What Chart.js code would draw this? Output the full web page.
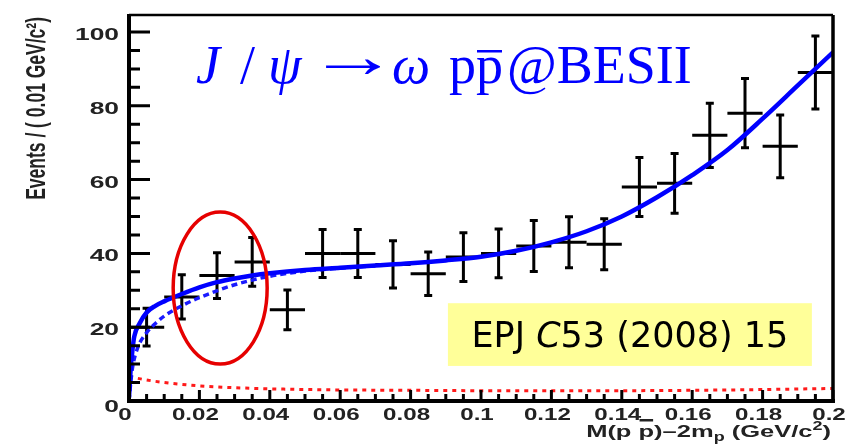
<!DOCTYPE html>
<html>
<head>
<meta charset="utf-8">
<script src="https://cdn.jsdelivr.net/npm/chart.js@4/dist/chart.umd.min.js"></script>
<style>
  html, body { margin: 0; padding: 0; background: #fff; }
  canvas { display: block; }
</style>
</head>
<body>
<canvas id="c" width="855" height="444"></canvas>
<script>
// M(p pbar) - 2m_p, bin centres in GeV/c^2 (0.01 GeV/c^2 bins)
const binCenters = [0.005, 0.015, 0.025, 0.035, 0.045, 0.055, 0.065, 0.075, 0.085, 0.095,
                    0.105, 0.115, 0.125, 0.135, 0.145, 0.155, 0.165, 0.175, 0.185, 0.195];
const binHalfWidth = 0.005;
// Events per bin and their errors
const events      = [20, 28.2, 34, 37.7, 24.7, 40, 40, 37, 34.5, 39,
                     40, 42, 43, 42.5, 58, 59, 72, 78, 69, 89];
const eventErrors = [5.1, 6.0, 6.2, 6.6, 5.4, 6.5, 6.5, 6.4, 5.9, 6.6,
                     6.6, 6.9, 6.9, 6.9, 8.0, 8.1, 8.7, 9.4, 8.5, 9.9];

// Total fit (solid blue)
const fitX = [0, 0.0005, 0.001, 0.0015, 0.003, 0.005, 0.0075, 0.01, 0.015, 0.02, 0.025, 0.03, 0.035, 0.04,
              0.05, 0.06, 0.07, 0.08, 0.09, 0.1, 0.11, 0.12, 0.13, 0.14, 0.15, 0.16, 0.17, 0.18, 0.19, 0.2];
const fitY = [1, 9, 14, 17.5, 21, 24, 25.8, 27, 29, 30.8, 32.2, 33.2, 34.0, 34.6,
              35.5, 36.1, 36.7, 37.3, 38.1, 39.1, 40.7, 43, 46, 50, 55.2, 61.2, 68, 76.5, 85.5, 94.5];

// Signal component (dashed blue)
const compX = [0, 0.0005, 0.001, 0.0025, 0.005, 0.0075, 0.01, 0.015, 0.02, 0.03, 0.04, 0.05, 0.06, 0.07];
const compY = [0, 5, 9, 14.5, 18.5, 21, 23, 25.8, 28, 31.5, 33.8, 35.2, 36.0, 36.6];

// Background (dotted red)
const bkgX = [0, 0.005, 0.01, 0.015, 0.02, 0.03, 0.04, 0.06, 0.08, 0.1, 0.12, 0.14, 0.16, 0.18, 0.2];
const bkgY = [6.6, 5.7, 5.0, 4.5, 4.1, 3.6, 3.3, 3.0, 2.9, 2.8, 2.8, 2.8, 2.9, 3.1, 3.4];

// Axis ticks and labels
const xTickValues = [0, 0.02, 0.04, 0.06, 0.08, 0.1, 0.12, 0.14, 0.16, 0.18, 0.2];
const xTickLabels = ['0', '0.02', '0.04', '0.06', '0.08', '0.1', '0.12', '0.14', '0.16', '0.18', '0.2'];
const yTickValues = [0, 20, 40, 60, 80, 100];
const yTickLabels = ['0', '20', '40', '60', '80', '100'];
const xMinorStep = 0.005;
const yMinorStep = 5;

// Highlighted region (ellipse, in data units) and reference note
const ellipseRegion = { cx: 0.0259, cy: 30.6, rx: 0.01335, ry: 20.6 };
const noteRegion = { x0: 0.0906, x1: 0.194, y0: 9.5, y1: 26.5 };
const noteText = ['EPJ ', 'C', '53 (2008) 15'];

const toPts = (xs, ys) => xs.map((x, i) => ({ x, y: ys[i] }));

// draw text pieces horizontally stretched by sx
function drawPieces(ctx, pieces, x, y, align, sx) {
  let total = 0;
  pieces.forEach(p => { ctx.font = p.font; p.w = ctx.measureText(p.t).width * sx; total += p.w; });
  let cur = align === 'right' ? x - total : (align === 'center' ? x - total / 2 : x);
  const spans = [];
  pieces.forEach(p => {
    ctx.save();
    ctx.font = p.font;
    ctx.translate(cur, y + (p.dy || 0));
    ctx.scale(sx, 1);
    ctx.textAlign = 'left';
    ctx.textBaseline = 'alphabetic';
    ctx.fillText(p.t, 0, 0);
    ctx.restore();
    spans.push([cur, cur + p.w]);
    cur += p.w;
  });
  return spans;
}

const rootFrame = {
  id: 'rootFrame',
  beforeDraw(chart) {
    const ctx = chart.ctx;
    ctx.save();
    ctx.fillStyle = '#fff';
    ctx.fillRect(0, 0, chart.width, chart.height);
    ctx.restore();
  },
  beforeDatasetsDraw(chart) {
    // error-bar crosses for the data points
    const ctx = chart.ctx, xs = chart.scales.x, ys = chart.scales.y;
    const pts = chart.data.datasets[3].data;
    ctx.save();
    ctx.strokeStyle = '#000';
    ctx.lineWidth = 3;
    ctx.lineCap = 'butt';
    pts.forEach(p => {
      const px = xs.getPixelForValue(p.x), py = ys.getPixelForValue(p.y);
      const x1 = xs.getPixelForValue(p.x - p.xErr), x2 = xs.getPixelForValue(p.x + p.xErr);
      const yt = ys.getPixelForValue(p.y + p.yErr), yb = ys.getPixelForValue(p.y - p.yErr);
      ctx.beginPath();
      ctx.moveTo(x1, py); ctx.lineTo(x2, py);
      ctx.moveTo(px, yt); ctx.lineTo(px, yb);
      ctx.moveTo(px - 4, yt); ctx.lineTo(px + 4, yt);
      ctx.moveTo(px - 4, yb); ctx.lineTo(px + 4, yb);
      ctx.stroke();
    });
    ctx.restore();
  },
  afterDatasetsDraw(chart) {
    const ctx = chart.ctx, xs = chart.scales.x, ys = chart.scales.y, a = chart.chartArea;
    ctx.save();
    // frame
    ctx.strokeStyle = '#000';
    ctx.lineWidth = 2.5;
    ctx.beginPath(); ctx.moveTo(a.left, a.top); ctx.lineTo(a.right, a.top); ctx.stroke();
    ctx.lineWidth = 3.5;
    ctx.beginPath(); ctx.moveTo(a.right, a.top); ctx.lineTo(a.right, a.bottom); ctx.stroke();
    ctx.lineWidth = 4;
    ctx.beginPath(); ctx.moveTo(a.left, a.top - 1); ctx.lineTo(a.left, a.bottom + 2); ctx.stroke();
    ctx.beginPath(); ctx.moveTo(a.left - 2, a.bottom); ctx.lineTo(a.right + 2, a.bottom); ctx.stroke();

    // ticks pointing inwards
    ctx.lineWidth = 3;
    ctx.beginPath();
    for (let v = 0; v <= 104; v += yMinorStep) {
      const py = ys.getPixelForValue(v);
      const len = yTickValues.includes(v) ? 21 : 11;
      ctx.moveTo(a.left, py); ctx.lineTo(a.left + len, py);
    }
    for (let k = 0; k <= 40; k++) {
      const v = k * xMinorStep;
      const px = xs.getPixelForValue(v);
      const len = (k % 4 === 0) ? 11 : 7;
      ctx.moveTo(px, a.bottom); ctx.lineTo(px, a.bottom - len);
    }
    ctx.stroke();

    // tick labels
    ctx.fillStyle = '#222';
    const tickFont = 'bold 17px "Liberation Sans", Arial, sans-serif';
    xTickValues.forEach((v, i) => {
      drawPieces(ctx, [{ t: xTickLabels[i], font: tickFont }], xs.getPixelForValue(v) - 4, 420, 'center', 1.42);
    });
    const yFont = 'bold 16px "Liberation Sans", Arial, sans-serif';
    yTickValues.forEach((v, i) => {
      const off = v === 0 ? 11 : 8;
      drawPieces(ctx, [{ t: yTickLabels[i], font: yFont }], 119, ys.getPixelForValue(v) + off, 'right', 1.65);
    });

    // x axis title
    const tf = 'bold 17px "Liberation Sans", Arial, sans-serif';
    const sf = 'bold 12px "Liberation Sans", Arial, sans-serif';
    const spans = drawPieces(ctx, [
      { t: 'M(p ', font: tf }, { t: 'p', font: tf }, { t: ')\u20132m', font: tf },
      { t: 'p', font: sf, dy: 4 }, { t: ' (GeV/c', font: tf }, { t: '2', font: sf, dy: -7 }, { t: ')', font: tf }
    ], 831, 437, 'right', 1.5);
    ctx.fillRect(spans[1][0] + 1, 419, spans[1][1] - spans[1][0] - 2, 2.5);

    // y axis title, reading upwards
    ctx.save();
    ctx.translate(45, 17);
    ctx.scale(1.6, 1);
    ctx.rotate(-Math.PI / 2);
    ctx.font = 'bold 17.5px "Liberation Sans", Arial, sans-serif';
    ctx.textAlign = 'right';
    ctx.textBaseline = 'alphabetic';
    ctx.fillText('Events / ( 0.01 GeV/c\u00b2)', 0, 0);
    ctx.restore();

    // highlighted region
    const ecx = xs.getPixelForValue(ellipseRegion.cx), ecy = ys.getPixelForValue(ellipseRegion.cy);
    const erx = xs.getPixelForValue(ellipseRegion.cx + ellipseRegion.rx) - ecx;
    const ery = ecy - ys.getPixelForValue(ellipseRegion.cy + ellipseRegion.ry);
    ctx.strokeStyle = '#e60000';
    ctx.lineWidth = 3.5;
    ctx.beginPath();
    ctx.ellipse(ecx, ecy, erx, ery, 0, 0, Math.PI * 2);
    ctx.stroke();

    // reference note box
    const bx0 = xs.getPixelForValue(noteRegion.x0), bx1 = xs.getPixelForValue(noteRegion.x1);
    const by0 = ys.getPixelForValue(noteRegion.y1), by1 = ys.getPixelForValue(noteRegion.y0);
    ctx.fillStyle = '#ffff99';
    ctx.fillRect(bx0, by0, bx1 - bx0, by1 - by0);
    ctx.fillStyle = '#000';
    const nf = '35px "DejaVu Sans", sans-serif';
    const nfi = 'oblique 35px "DejaVu Sans", sans-serif';
    drawPieces(ctx, [{ t: noteText[0], font: nf }, { t: noteText[1], font: nfi }, { t: noteText[2], font: nf }],
      (bx0 + bx1) / 2, (by0 + by1) / 2 + 12.5, 'center', 1);

    // process label
    ctx.fillStyle = '#0000ff';
    const serif = '"Liberation Serif", "Times New Roman", serif';
    const base = 83;
    const seg = (t, x, it) => { ctx.font = (it ? 'italic ' : '') + '54px ' + serif; ctx.fillText(t, x, base); return ctx.measureText(t).width; };
    ctx.textAlign = 'left';
    ctx.textBaseline = 'alphabetic';
    seg('J', 196, true);
    seg('/', 240, false);
    seg('\u03c8', 268, true);
    // arrow glyph, fitted to its ink box so it spans the gap between psi and omega
    ctx.save();
    ctx.font = '54px ' + serif;
    const am = ctx.measureText('\u2192');
    const inkW = am.actualBoundingBoxRight + am.actualBoundingBoxLeft;
    const inkH = am.actualBoundingBoxAscent + am.actualBoundingBoxDescent;
    const asx = 54 / inkW, asy = 16 / inkH;
    ctx.translate(326 + am.actualBoundingBoxLeft * asx,
                  67 - ((am.actualBoundingBoxDescent - am.actualBoundingBoxAscent) / 2) * asy);
    ctx.scale(asx, asy);
    ctx.fillText('\u2192', 0, 0);
    ctx.restore();
    seg('\u03c9', 392, true);
    ctx.font = '54px ' + serif;
    const w1 = seg('p', 449, false);
    const w2 = seg('p', 449 + w1, false);
    ctx.fillRect(449 + w1 + 1, 50, w2 - 2, 2.5);
    seg('@BESII', 449 + w1 + w2 + 4, false);

    ctx.restore();
  }
};

new Chart(document.getElementById('c'), {
  type: 'line',
  data: {
    datasets: [
      { label: 'fit', data: toPts(fitX, fitY), borderColor: '#0000ff', borderWidth: 4.5,
        pointRadius: 0, cubicInterpolationMode: 'monotone', fill: false, order: 1 },
      { label: 'signal', data: toPts(compX, compY), borderColor: '#1a1aff', borderWidth: 3.5,
        borderDash: [6, 4], pointRadius: 0, cubicInterpolationMode: 'monotone', fill: false, order: 2 },
      { label: 'background', data: toPts(bkgX, bkgY), borderColor: '#ff1a1a', borderWidth: 3,
        borderDash: [4, 5], pointRadius: 0, cubicInterpolationMode: 'monotone', fill: false, order: 3 },
      { label: 'data', type: 'scatter', showLine: false, pointRadius: 0,
        data: binCenters.map((x, i) => ({ x, y: events[i], xErr: binHalfWidth, yErr: eventErrors[i] })), order: 4 }
    ]
  },
  options: {
    responsive: false,
    animation: false,
    events: [],
    layout: { padding: { left: 0, right: 22, top: 15, bottom: 0 } },
    plugins: { legend: { display: false }, tooltip: { enabled: false } },
    scales: {
      x: { type: 'linear', min: 0, max: 0.2, ticks: { display: false }, grid: { display: false },
           border: { display: false }, afterFit(s) { s.height = 43; } },
      y: { type: 'linear', min: 0, max: 104.6, ticks: { display: false }, grid: { display: false },
           border: { display: false }, afterFit(s) { s.width = 129; } }
    }
  },
  plugins: [rootFrame]
});
</script>
</body>
</html>
